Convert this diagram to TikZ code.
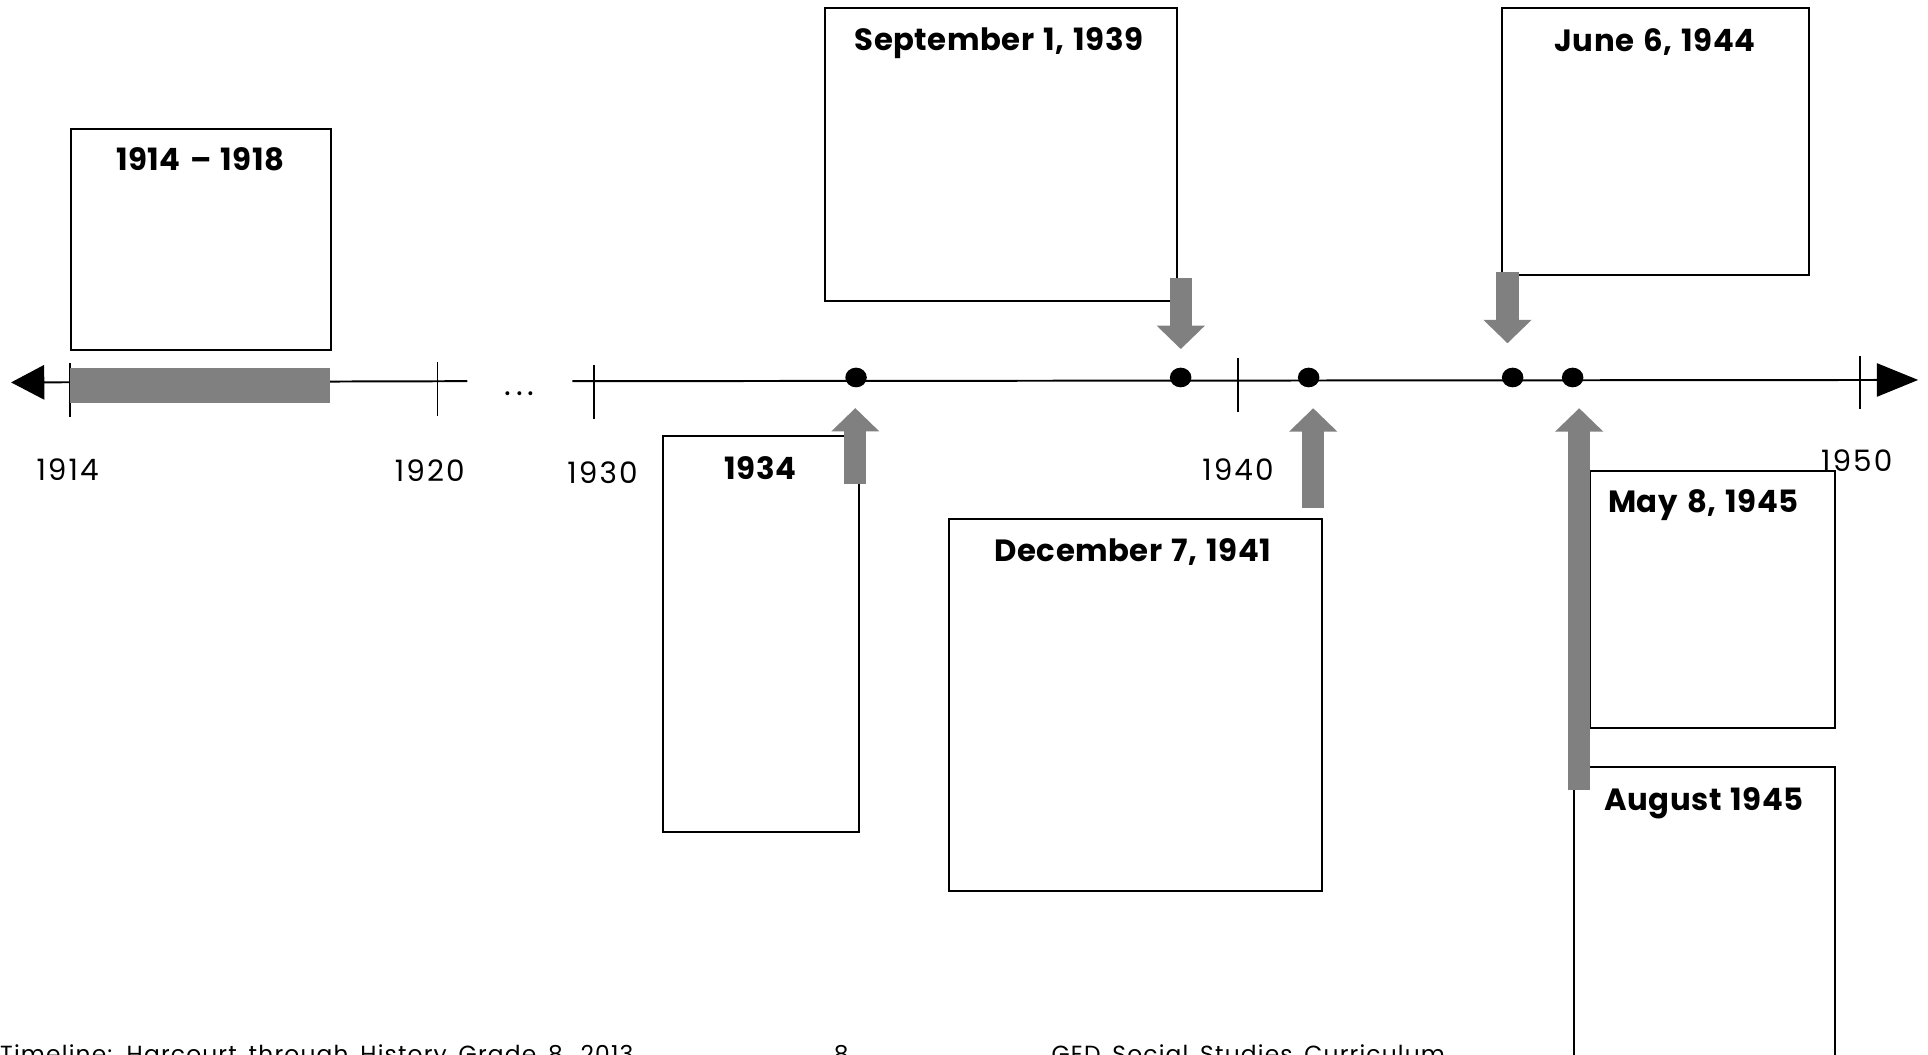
\documentclass[tikz,border=0pt]{standalone}
\usepackage{fontspec}
\setmainfont{Poppins}
\newfontfamily\titlefont{Poppins}[WordSpace=1.35, LetterSpace=1.5]
\newfontfamily\yearfont{Poppins}[Numbers=Monospaced, LetterSpace=7]
\newfontfamily\footfont{Poppins}[WordSpace=1.6, LetterSpace=5]
\usetikzlibrary{arrows.meta,shapes.geometric}
\begin{document}
\begin{tikzpicture}[x=1pt,y=-1pt,
  box/.style={draw, line width=1.7pt, inner sep=0pt, anchor=north west},
  title/.style={anchor=base, inner sep=0pt, font=\titlefont\fontsize{25}{29}\selectfont\bfseries},
  year/.style={anchor=base, inner sep=0pt, font=\yearfont\fontsize{24}{28}\selectfont},
  axisline/.style={line width=1.6pt, black},
  tick/.style={line width=1.6pt, black},
  pointer/.style={line width=18pt, color={rgb,255:red,128;green,128;blue,128}, line cap=butt, -{Triangle[width=38pt,length=19pt]}},
  evdot/.style={ellipse, fill=black, minimum width=17.5pt, minimum height=16pt, inner sep=0pt},
  foot/.style={anchor=base west, inner sep=0pt, font=\footfont\fontsize{19}{22}\selectfont}]
\useasboundingbox (0,0) rectangle (1568,858);
\definecolor{bargray}{RGB}{128,128,128}

% boxes
\node[box, minimum width=211pt, minimum height=180pt] (b1914) at (57,104) {};
\node[box, minimum width=286pt, minimum height=238pt] (b1939) at (670,6) {};
\node[box, minimum width=249pt, minimum height=217pt] (b1944) at (1221,6) {};
\node[box, minimum width=160pt, minimum height=322pt] (b1934) at (538,354) {};
\node[box, minimum width=303pt, minimum height=303pt] (b1941) at (771,421) {};
\node[box, minimum width=199pt, minimum height=209pt] (b1945a) at (1292.6,382) {};
\node[box, minimum width=212pt, minimum height=260pt] (b1945b) at (1279.6,623) {};

% titles
\node[title] (t1914) at (163,138.3) {1914 – 1918};
\node[title] (t1939) at (812.5,41.2) {September 1, 1939};
\node[title] (t1944) at (1346,42) {June 6, 1944};
\node[title] (t1934) at (618.5,389.8) {1934};
\node[title] (t1941) at (921.4,456.8) {December 7, 1941};
\node[title] (t1945a) at (1385.3,416.7) {May 8, 1945};
\node[title] (t1945b) at (1385.9,658.8) {August 1945};

% axis
\coordinate (lefttip) at (9,311);
\coordinate (gapl) at (380,310);
\coordinate (gapr) at (465.5,310);
\coordinate (righttip) at (1560,309);
\draw[axisline, {Triangle[width=28pt,length=27pt]}-] (lefttip) -- (gapl);
\draw[axisline, -{Triangle[width=27pt,length=33.6pt]}] (gapr) -- (righttip);
\node[anchor=base, inner sep=0pt, font=\fontsize{26}{30}\selectfont] (gap) at (422.5,322) {.\kern4pt.\kern4pt.};

% ticks
\draw[tick] (57,295.5) -- (57,339.4);
\draw[tick] (355.8,294.1) -- (355.8,338);
\draw[tick] (482.9,296.8) -- (482.9,340.8);
\draw[tick] (1006.8,291.4) -- (1006.8,334.8);
\draw[tick] (1512.4,289.5) -- (1512.4,332.9);

% war bar
\fill[bargray] (57,299.5) rectangle (268,327.5);

% years
\node[year] (y1914) at (55,390.4) {1914};
\node[year] (y1920) at (349.5,391.7) {1920};
\node[year] (y1930) at (490,393.6) {1930};
\node[year] (y1940) at (1006.8,390.4) {1940};
\node[year] (y1950) at (1510,383.5) {1950};

% event dots
\node[evdot] (d1934) at (696.2,307) {};
\node[evdot] (d1939) at (960.2,307) {};
\node[evdot] (d1941) at (1064.3,307) {};
\node[evdot] (d1944) at (1230.2,307) {};
\node[evdot] (d1945) at (1279,307) {};

% pointers
\coordinate (s1939) at (960.3,226);
\coordinate (e1939) at (960.3,283.9);
\coordinate (s1944) at (1226,221);
\coordinate (e1944) at (1226,279.2);
\coordinate (s1934) at (695.6,393.6);
\coordinate (e1934) at (695.6,331.9);
\coordinate (s1941) at (1068,413.4);
\coordinate (e1941) at (1068,332);
\coordinate (s1945) at (1284.3,642.7);
\coordinate (e1945) at (1284.3,332);
\draw[pointer] (s1939) -- (e1939);
\draw[pointer] (s1944) -- (e1944);
\draw[pointer] (s1934) -- (e1934);
\draw[pointer] (s1941) -- (e1941);
\draw[pointer] (s1945) -- (e1945);

% footer (cut off by page edge, as in the reference)
\node[foot] (f1) at (0,864) {Timeline: Harcourt through History Grade 8, 2013};
\node[foot] (f2) at (678,864) {8};
\node[foot] (f3) at (855,864) {GED Social Studies Curriculum};
\end{tikzpicture}
\end{document}
